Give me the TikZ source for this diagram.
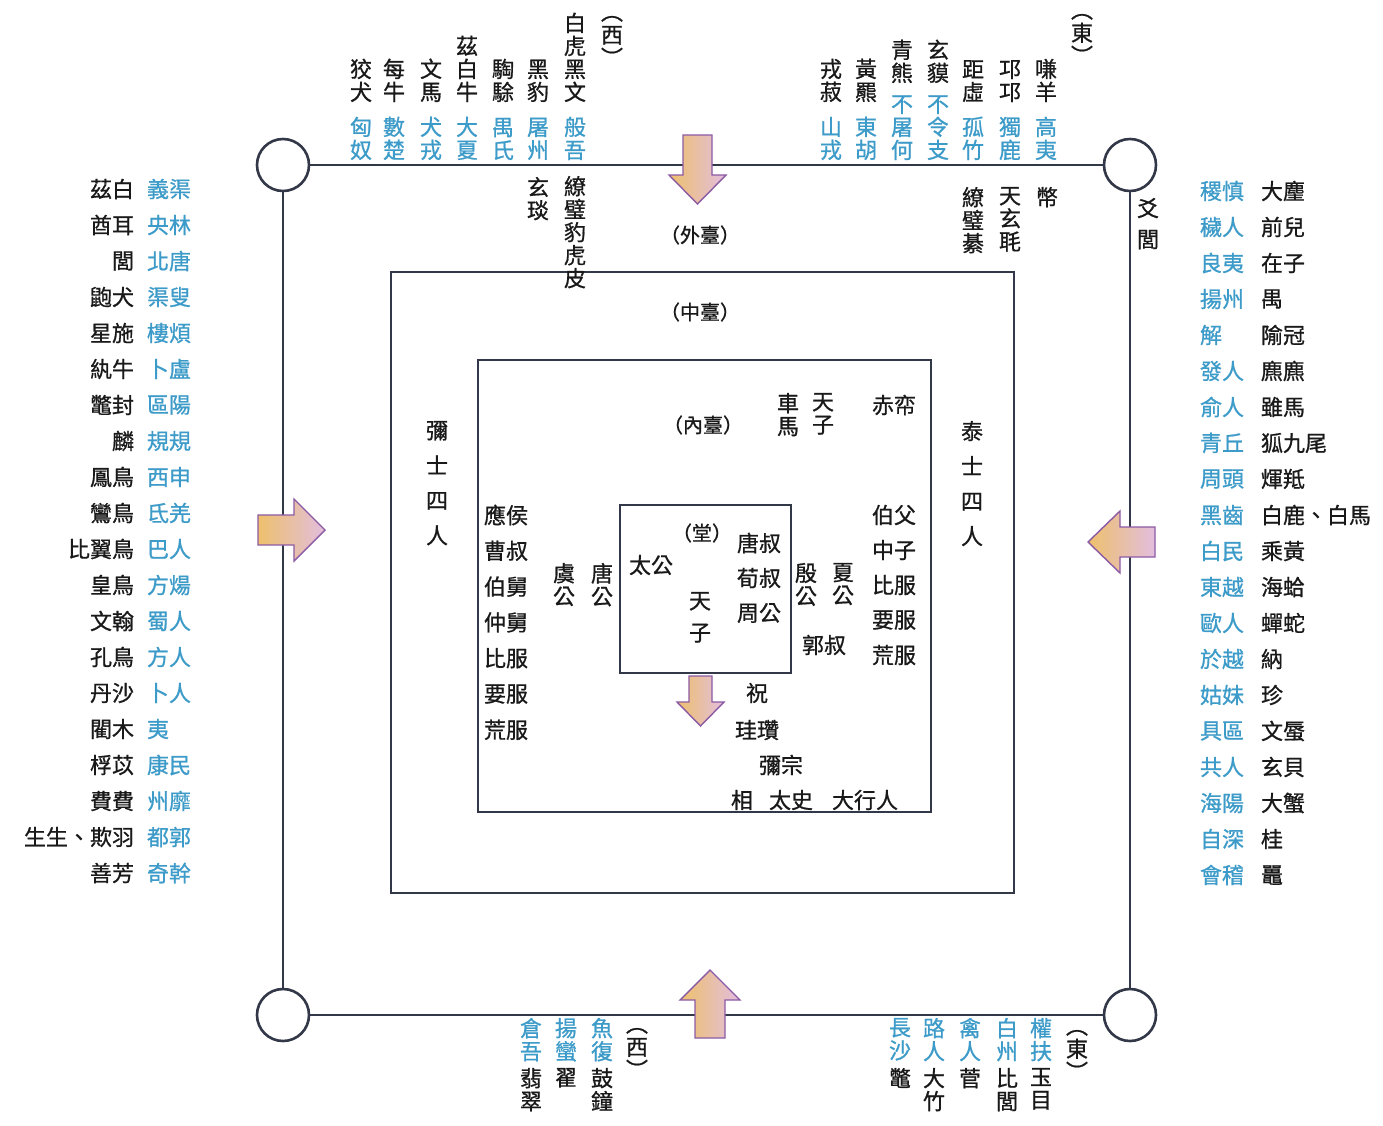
\documentclass[tikz,border=0pt]{standalone}
\usepackage{fontspec}
\setmainfont{Noto Sans CJK TC}[FakeBold=0.8]
\definecolor{txtk}{RGB}{25,25,25}
\definecolor{txtb}{RGB}{60,155,200}
\definecolor{framec}{RGB}{50,56,72}
\definecolor{arrowc}{RGB}{140,90,165}
\definecolor{goldc}{RGB}{238,192,108}
\definecolor{lavc}{RGB}{226,190,222}
\begin{document}
\begin{tikzpicture}[x=1pt,y=-1pt,
  every node/.style={inner sep=0pt, outer sep=0pt},
  tk/.style={text=txtk, font=\fontsize{22}{23}\selectfont, align=center},
  tb/.style={text=txtb, font=\fontsize{22}{23}\selectfont, align=center},
  lab/.style={text=txtk, font=\fontsize{20}{22}\selectfont},
  ring/.style={circle, draw=framec, line width=2.6pt, minimum size=52pt, fill=white},
  frameline/.style={draw=framec, line width=2.8pt},
  boxline/.style={draw=framec, line width=2.2pt},
  blockarrow/.style={draw=arrowc, line width=1.4pt, left color=goldc, right color=lavc},
  widepitch/.style={font=\fontsize{22}{35}\selectfont}
]
\useasboundingbox (0,0) rectangle (1383,1125);
\fill[white] (0,0) rectangle (1383,1125);

% outer frame
\node[ring] (tl) at (283,165) {};
\node[ring] (tr) at (1130,165) {};
\node[ring] (bl) at (283,1015) {};
\node[ring] (br) at (1130,1015) {};
\draw[frameline] (tl) -- (tr);
\draw[frameline] (bl) -- (br);
\draw[frameline] (tl) -- (bl);
\draw[frameline] (tr) -- (br);

% boxes
\draw[boxline] (391,272) rectangle (1014,893);
\draw[boxline] (478,360) rectangle (931,812);
\draw[boxline] (620,505) rectangle (791,673);

% block arrows
\path[blockarrow] (683,135) -- (712,135) -- (712,175) -- (726,175) -- (697.5,204) -- (669,175) -- (683,175) -- cycle;
\path[blockarrow] (710,970) -- (740,1000) -- (725,1000) -- (725,1038) -- (695,1038) -- (695,1000) -- (680,1000) -- cycle;
\path[blockarrow] (325,530) -- (294,499) -- (294,515) -- (258,515) -- (258,545) -- (294,545) -- (294,561) -- cycle;
\path[blockarrow] (1088,542) -- (1120,511) -- (1120,527) -- (1155,527) -- (1155,557) -- (1120,557) -- (1120,573) -- cycle;
\path[blockarrow] (689,676) -- (712,676) -- (712,702) -- (724,702) -- (700.5,726) -- (677,702) -- (689,702) -- cycle;

% left list
\foreach \k/\b [count=\i from 0] in {茲白/義渠,酋耳/央林,閭/北唐,鼩犬/渠叟,星施/樓煩,紈牛/卜盧,鼈封/區陽,麟/規規,鳳鳥/西申,鸞鳥/氐羌,比翼鳥/巴人,皇鳥/方煬,文翰/蜀人,孔鳥/方人,丹沙/卜人,閵木/夷,桴苡/康民,費費/州靡,生生、欺羽/都郭,善芳/奇幹}{
  \node[tk, anchor=east] (lk\i) at (134,189+36*\i) {\k};
  \node[tb, anchor=west] (lb\i) at (147,189+36*\i) {\b};
}

% right list
\foreach \b/\k [count=\i from 0] in {稷慎/大麈,穢人/前兒,良夷/在子,揚州/禺,解/隃冠,發人/麃麃,俞人/雖馬,青丘/狐九尾,周頭/煇羝,黑齒/白鹿、白馬,白民/乘黃,東越/海蛤,歐人/蟬蛇,於越/納,姑妹/珍,具區/文蜃,共人/玄貝,海陽/大蟹,自深/桂,會稽/鼉}{
  \node[tb, anchor=west] (rb\i) at (1200,191+36*\i) {\b};
  \node[tk, anchor=west] (rk\i) at (1261,191+36*\i) {\k};
}

% top-left (west)
\node[tk, anchor=south] (w1k) at (361,102) {狡\\犬};
\node[tk, anchor=south] (w2k) at (394,102) {每\\牛};
\node[tk, anchor=south] (w3k) at (431,102) {文\\馬};
\node[tk, anchor=south] (w4k) at (467,102) {茲\\白\\牛};
\node[tk, anchor=south] (w5k) at (503,102) {騊\\駼};
\node[tk, anchor=south] (w6k) at (538,102) {黑\\豹};
\node[tk, anchor=south] (w7k) at (575,102) {白\\虎\\黑\\文};
\node[tb, anchor=south] (w1b) at (361,160) {匈\\奴};
\node[tb, anchor=south] (w2b) at (394,160) {數\\楚};
\node[tb, anchor=south] (w3b) at (431,160) {犬\\戎};
\node[tb, anchor=south] (w4b) at (467,160) {大\\夏};
\node[tb, anchor=south] (w5b) at (503,160) {禺\\氏};
\node[tb, anchor=south] (w6b) at (538,160) {屠\\州};
\node[tb, anchor=south] (w7b) at (575,160) {般\\吾};
\node[tk, anchor=north] (wdir) at (612,16) {︵\\西\\︶};
\node[tk, anchor=north] (wg1) at (538,177) {玄\\琰};
\node[tk, anchor=north] (wg2) at (575,176) {繚\\璧\\豹\\虎\\皮};

% top-right (east)
\node[tk, anchor=south] (e1k) at (831,102) {戎\\菽};
\node[tk, anchor=south] (e2k) at (866,102) {黃\\羆};
\node[tk, anchor=south] (e3k) at (902,83) {青\\熊};
\node[tk, anchor=south] (e4k) at (938,83) {玄\\貘};
\node[tk, anchor=south] (e5k) at (973,102) {距\\虛};
\node[tk, anchor=south] (e6k) at (1010,102) {邛\\邛};
\node[tk, anchor=south] (e7k) at (1046,102) {嗛\\羊};
\node[tb, anchor=south] (e1b) at (831,160) {山\\戎};
\node[tb, anchor=south] (e2b) at (866,160) {東\\胡};
\node[tb, anchor=south] (e3b) at (902,160) {不\\屠\\何};
\node[tb, anchor=south] (e4b) at (938,160) {不\\令\\支};
\node[tb, anchor=south] (e5b) at (973,160) {孤\\竹};
\node[tb, anchor=south] (e6b) at (1010,160) {獨\\鹿};
\node[tb, anchor=south] (e7b) at (1046,160) {高\\夷};
\node[tk, anchor=north] (edir) at (1082,14) {︵\\東\\︶};
\node[tk, anchor=north] (eg1) at (973,187) {繚\\璧\\綦};
\node[tk, anchor=north] (eg2) at (1010,187) {天\\玄\\毦};
\node[tk, anchor=north] (eg3) at (1047,187) {幣};
\node[tk, anchor=north, font=\fontsize{22}{31}\selectfont] (yaolv) at (1148,198) {爻\\閭};

% bottom-left (west)
\node[tb, anchor=north] (s1b) at (531,1018) {倉\\吾};
\node[tb, anchor=north] (s2b) at (566,1018) {揚\\蠻};
\node[tb, anchor=north] (s3b) at (602,1018) {魚\\復};
\node[tk, anchor=north] (sdir) at (637,1028) {︵\\西\\︶};
\node[tk, anchor=north] (s1k) at (531,1068) {翡\\翠};
\node[tk, anchor=north] (s2k) at (566,1068) {翟};
\node[tk, anchor=north] (s3k) at (602,1068) {鼓\\鐘};

% bottom-right (east)
\node[tb, anchor=north] (t1b) at (900,1018) {長\\沙};
\node[tb, anchor=north] (t2b) at (934,1018) {路\\人};
\node[tb, anchor=north] (t3b) at (970,1018) {禽\\人};
\node[tb, anchor=north] (t4b) at (1007,1018) {白\\州};
\node[tb, anchor=north] (t5b) at (1041,1018) {權\\扶};
\node[tk, anchor=north] (tdir) at (1077,1030) {︵\\東\\︶};
\node[tk, anchor=north] (t1k) at (900,1068) {鼈};
\node[tk, anchor=north] (t2k) at (934,1068) {大\\竹};
\node[tk, anchor=north] (t3k) at (970,1068) {菅};
\node[tk, anchor=north] (t4k) at (1007,1068) {比\\閭};
\node[tk, anchor=north] (t5k) at (1041,1068) {玉\\目};

% terrace labels
\node[lab] (waitai) at (700,235) {（外臺）};
\node[lab] (zhongtai) at (700,312) {（中臺）};
\node[lab] (neitai) at (703,425) {（內臺）};
\node[lab] (tang) at (702,533) {（堂）};

% middle terrace
\node[tk, widepitch, anchor=north] (mishi) at (437,421) {彌\\士\\四\\人};
\node[tk, widepitch, anchor=north] (taishi) at (972,421) {泰\\士\\四\\人};

% inner terrace
\node[tk, anchor=north] (tianzi1) at (823,393) {天\\子};
\node[tk, anchor=north] (chema) at (788,393) {車\\馬};
\node[tk] (chiyi) at (894,405) {赤帟};
\foreach \t [count=\i from 0] in {應侯,曹叔,伯舅,仲舅,比服,要服,荒服}{
  \node[tk] (lc\i) at (506,515+35.8*\i) {\t};
}
\foreach \t [count=\i from 0] in {伯父,中子,比服,要服,荒服}{
  \node[tk] (rc\i) at (894,515+35*\i) {\t};
}
\node[tk, anchor=north] (yugong) at (564,563) {虞\\公};
\node[tk, anchor=north] (tanggong) at (602,563) {唐\\公};
\node[tk] (taigong) at (651,565) {太公};
\node[tk, anchor=north, font=\fontsize{22}{32}\selectfont] (tianzi2) at (700,592) {天\\子};
\node[tk] (tangshu) at (759,543) {唐叔};
\node[tk] (xunshu) at (759,578) {荀叔};
\node[tk] (zhougong) at (759,613) {周公};
\node[tk, anchor=north] (yingong) at (806,563) {殷\\公};
\node[tk, anchor=north] (xiagong) at (843,563) {夏\\公};
\node[tk] (guoshu) at (824,645) {郭叔};
\node[tk] (zhu) at (757,693) {祝};
\node[tk] (guizan) at (757,730) {珪瓚};
\node[tk] (mizong) at (781,765) {彌宗};
\node[tk] (xiang) at (742,800) {相};
\node[tk] (taishi2) at (791,800) {太史};
\node[tk] (daxingren) at (865,800) {大行人};
\end{tikzpicture}
\end{document}
